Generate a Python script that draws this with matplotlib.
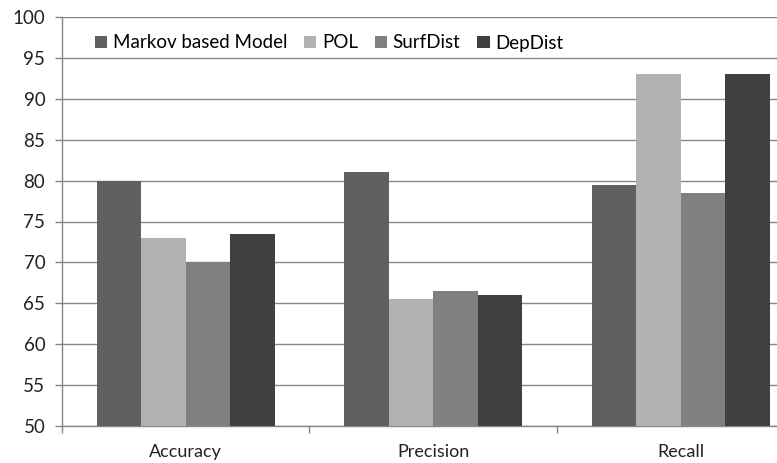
import numpy as np
import matplotlib.pyplot as plt
from matplotlib.patches import Patch

categories = ["Accuracy", "Precision", "Recall"]
series = ["Markov based Model", "POL", "SurfDist", "DepDist"]
markov = [80, 81, 79.5]
pol = [73, 65.5, 93]
surfdist = [70, 66.5, 78.5]
depdist = [73.5, 66, 93]
colors = ["#606060", "#b2b2b2", "#808080", "#404040"]

plt.rcParams['font.family'] = ['Lato', 'DejaVu Sans']

fig = plt.figure(figsize=(7.77, 4.63), dpi=100)
ax = fig.add_axes([62/777, 1-426/463, 742.5/777, 409/463])

x = np.arange(len(categories))
w = 0.18
for i, (vals, c) in enumerate(zip([markov, pol, surfdist, depdist], colors)):
    ax.bar(x + (i - 1.5) * w, np.array(vals) - 50, w, bottom=50, color=c, zorder=3)

ax.set_ylim(50, 100)
ax.set_xlim(-0.5, 2.5)
ax.set_yticks(np.arange(50, 101, 5))
ax.yaxis.grid(True, color="#868686", linewidth=1.0, zorder=0)
ax.set_axisbelow(True)

ax.set_xticks(x)
ax.set_xticklabels(categories)
ax.set_xticks([-0.5, 0.5, 1.5, 2.5], minor=True)
ax.tick_params(axis='x', which='major', length=0, pad=13, labelsize=13, labelcolor="#222222")
ax.tick_params(axis='x', which='minor', length=5, color="#868686", width=1)
ax.tick_params(axis='y', length=5, color="#868686", width=1, pad=7, labelsize=13.5, labelcolor="#222222")

for s in ["top", "right"]:
    ax.spines[s].set_visible(False)
for s in ["left", "bottom"]:
    ax.spines[s].set_color("#868686")
    ax.spines[s].set_linewidth(1.0)

handles = [Patch(facecolor=c, edgecolor='none') for c in colors]
fig.legend(handles, series, loc='center left', bbox_to_anchor=(95/777, 1-43/463),
           ncol=4, frameon=False, fontsize=13.5, handlelength=0.65, handleheight=0.65,
           handletextpad=0.3, columnspacing=0.9, borderpad=0, borderaxespad=0)

fig.savefig("out.png", dpi=100)
